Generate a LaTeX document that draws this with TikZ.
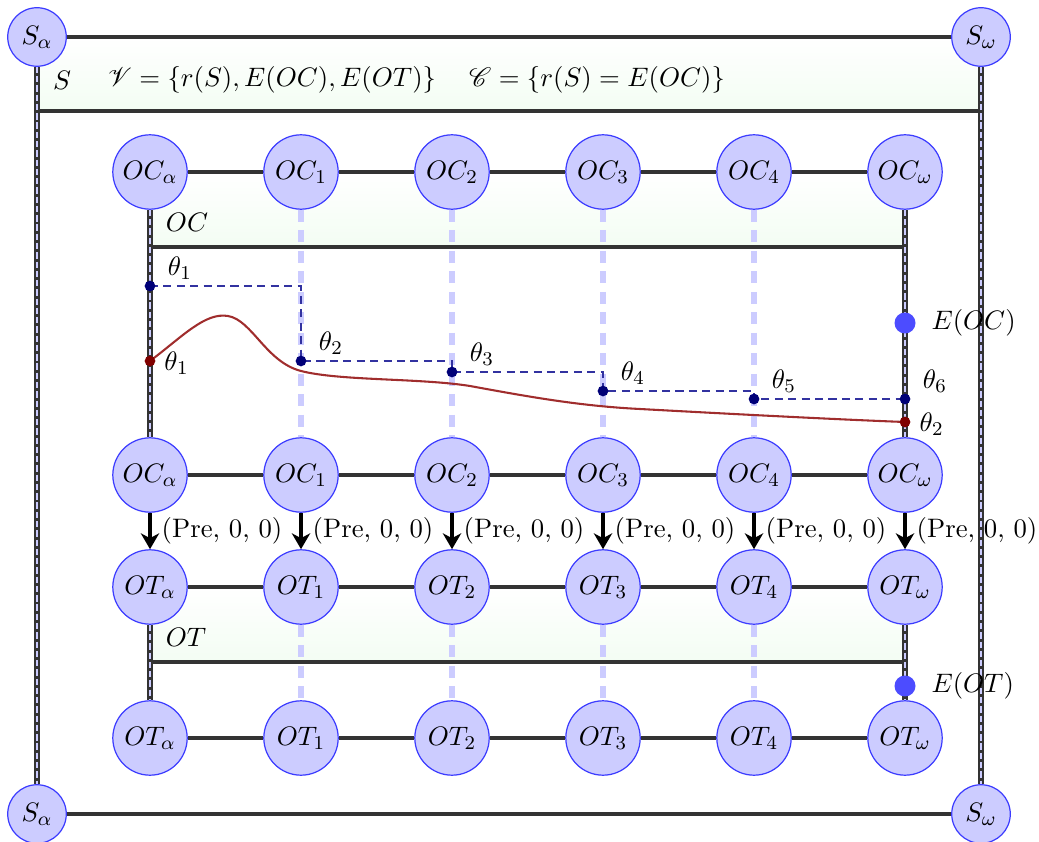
\documentclass[tikz,border=0pt]{standalone}
\usepackage{mathrsfs}
\usetikzlibrary{arrows.meta}
\definecolor{darkbar}{RGB}{51,51,51}
\definecolor{lightb}{RGB}{204,204,255}
\definecolor{nodeedge}{RGB}{60,60,255}
\definecolor{navy}{RGB}{0,0,120}
\definecolor{navydash}{RGB}{50,50,160}
\definecolor{darkred}{RGB}{128,0,0}
\definecolor{curvered}{RGB}{160,45,45}
\definecolor{edot}{RGB}{76,76,255}
\definecolor{bandgreen}{RGB}{243,253,243}
\pgfdeclarelayer{bg}
\pgfsetlayers{bg,main}
\begin{document}
\begin{tikzpicture}[x=0.41pt,y=-0.41pt,
  every node/.append style={font=\fontsize{10.95}{13}\selectfont},
  state/.style={circle,draw=nodeedge,line width=0.5pt,fill=lightb,minimum size=30.5pt,inner sep=0pt},
  sstate/.style={state,minimum size=24pt},
  bar/.style={line width=2pt,draw=darkbar},
  vbar/.style={line width=2.1pt,draw=darkbar,postaction={draw=lightb,line width=0.85pt,dash pattern=on 2.6pt off 1.2pt}},
  ldash/.style={line width=2.2pt,draw=lightb,dash pattern=on 5pt off 3.4pt},
  pre/.style={line width=1.6pt,draw=black,-{Stealth[length=6.5pt,width=7.5pt,inset=2pt]}},
  ndot/.style={circle,fill=navy,inner sep=0pt,minimum size=4.4pt},
  rdot/.style={circle,fill=darkred,inner sep=0pt,minimum size=4.4pt},
  edotst/.style={circle,fill=edot,inner sep=0pt,minimum size=8.6pt},
  band/.style={top color=white,bottom color=bandgreen,draw=none},
]
\useasboundingbox (0,0) rectangle (1039,842);

% coordinates for band lines
\coordinate (sl) at (37,111);
\coordinate (sr) at (981,111);
\coordinate (ocl) at (150,247);
\coordinate (ocr) at (905,247);
\coordinate (otl) at (150,662);
\coordinate (otr) at (905,662);

% S nodes
\node[sstate] (Sa) at (37,37) {$S_\alpha$};
\node[sstate] (So) at (981,37) {$S_\omega$};
\node[sstate] (Sab) at (37,814) {$S_\alpha$};
\node[sstate] (Sob) at (981,814) {$S_\omega$};

% OC / OT nodes
\foreach \n/\x/\l in {a/150/\alpha,1/301/1,2/452/2,3/603/3,4/754/4,o/905/\omega}{
  \node[state] (OC\n) at (\x,172) {$OC_{\l}$};
  \node[state] (OCb\n) at (\x,475) {$OC_{\l}$};
  \node[state] (OT\n) at (\x,587) {$OT_{\l}$};
  \node[state] (OTb\n) at (\x,738) {$OT_{\l}$};
}

% dots
\node[edotst] (EOC) at (905,323) {};
\node[edotst] (EOT) at (905,686) {};
\node[rdot] (r1) at (150,361) {};
\node[rdot] (r2) at (905,422) {};
\node[ndot] (t1) at (150,286) {};
\node[ndot] (t2) at (301,361) {};
\node[ndot] (t3) at (452,372) {};
\node[ndot] (t4) at (603,391) {};
\node[ndot] (t5) at (754,399) {};
\node[ndot] (t6) at (905,399) {};

\begin{pgfonlayer}{bg}
  % bands
  \shade[band] (37,37) rectangle (981,111);
  \shade[band] (150,172) rectangle (905,247);
  \shade[band] (150,587) rectangle (905,662);
  % S frame
  \draw[bar] (Sa) -- (So);
  \draw[bar] (Sab) -- (Sob);
  \draw[bar] (sl) -- (sr);
  \draw[vbar] (Sa) -- (Sab);
  \draw[vbar] (So) -- (Sob);
  % OC/OT rows
  \foreach \r in {OC,OCb,OT,OTb}{
    \draw[bar] (\r a) -- (\r 1) -- (\r 2) -- (\r 3) -- (\r 4) -- (\r o);
  }
  \draw[bar] (ocl) -- (ocr);
  \draw[bar] (otl) -- (otr);
  \draw[vbar] (OCa) -- (OCba);
  \draw[vbar] (OCo) -- (OCbo);
  \draw[vbar] (OTa) -- (OTba);
  \draw[vbar] (OTo) -- (OTbo);
  \foreach \n in {1,2,3,4}{
    \draw[ldash] (OC\n) -- (OCb\n);
    \draw[ldash] (OT\n) -- (OTb\n);
  }
  % red curve
  \draw[curvered,line width=0.85pt] (r1.center) .. controls (182,337) and (205,312) .. (228,316)
    .. controls (252,320) and (266,362) .. (301,371)
    .. controls (340,381) and (420,378) .. (470,386)
    .. controls (530,397) and (580,406) .. (640,409)
    .. controls (750,415) and (850,420) .. (r2.center);
  % navy step path
  \draw[navydash,line width=0.85pt,dash pattern=on 3.3pt off 2.2pt]
    (t1.center) -| (t2.center) -| (t3.center) -| (t4.center) -| (t5.center) -- (t6.center);
\end{pgfonlayer}

% arrows
\foreach \n in {a,1,2,3,4,o}{
  \draw[pre] (OCb\n) -- node[right,inner sep=1.5pt,xshift=2.5pt] {(Pre, 0, 0)} (OT\n);
}

% band labels
\node at (62,80) {$S$};
\node at (272,80) {$\mathscr{V}=\{r(S),E(OC),E(OT)\}$};
\node at (597,80) {$\mathscr{C}=\{r(S)=E(OC)\}$};
\node at (187,222) {$OC$};
\node at (186,637) {$OT$};

% labels of dots
\node[anchor=west,inner sep=0pt] at (931,323) {$E(OC)$};
\node[anchor=west,inner sep=0pt] at (931,686) {$E(OT)$};
\node[anchor=west,inner sep=0pt] at (164,363) {$\theta_1$};
\node[anchor=west,inner sep=0pt] at (919,424) {$\theta_2$};
\foreach \i in {1,...,6}{
  \path (t\i) ++(30,-18) node {$\theta_{\i}$};
}
\end{tikzpicture}
\end{document}
